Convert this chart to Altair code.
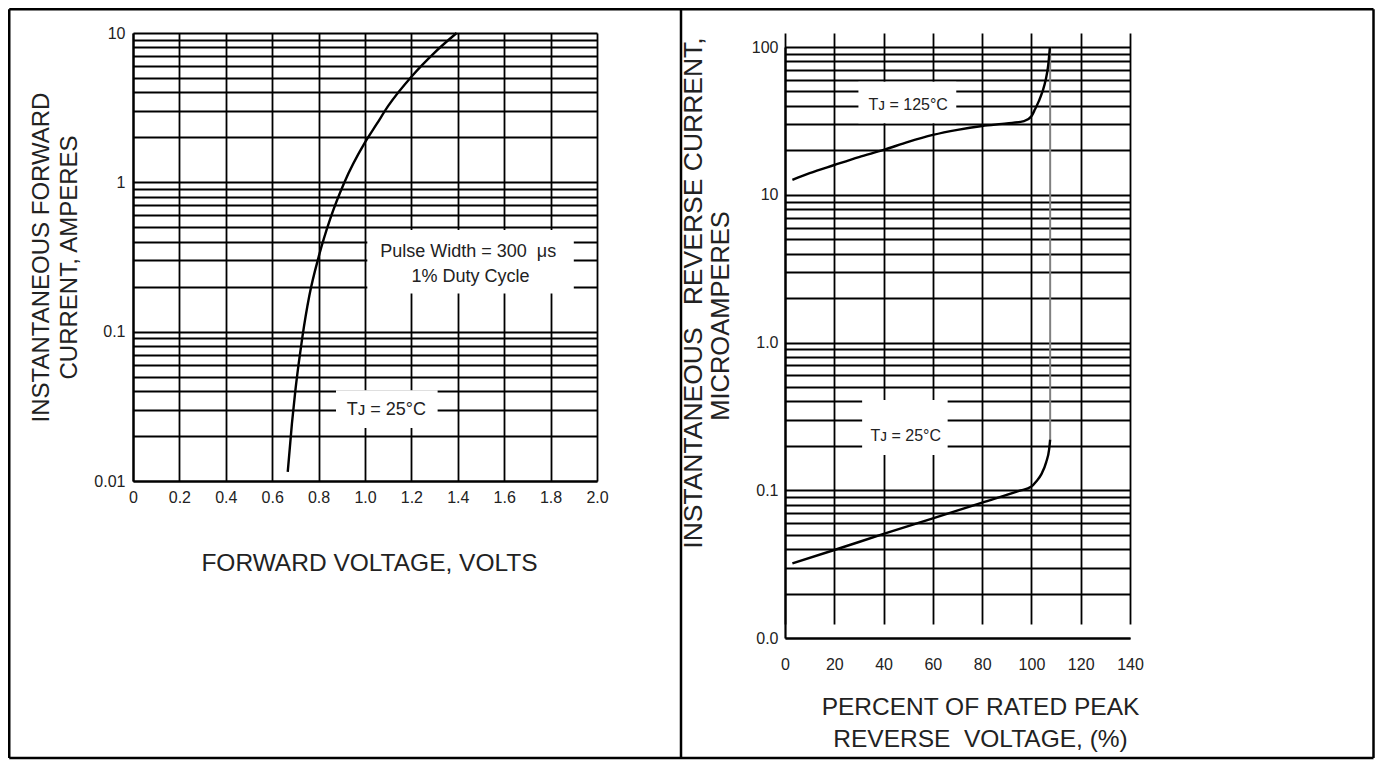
import altair as alt
import pandas as pd

FONT = "Liberation Sans"
NB = "\u00a0"

# ---------------- data: left chart (forward characteristic) ----------------
VF = [0.667, 0.685, 0.700, 0.715, 0.730, 0.760, 0.800, 0.850, 0.910, 1.000,
      1.050, 1.100, 1.200, 1.300, 1.395]
IF = [0.0115, 0.0242, 0.0406, 0.0626, 0.092, 0.174, 0.316, 0.569, 0.99, 1.85,
      2.45, 3.25, 5.1, 7.4, 10.0]

# ---------------- data: right chart (reverse characteristic) ---------------
PR125 = [3, 10, 20, 30, 40, 50, 60, 70, 80, 90, 97, 100, 101.5, 103, 104.5,
         105.8, 106.8, 107.5]
IR125 = [12.6, 14.0, 15.9, 18.0, 20.1, 22.8, 25.4, 27.5, 29.2, 30.4, 31.5,
         34.0, 38.0, 43.0, 50.0, 60.0, 75.0, 100.0]
PR25 = [3, 20, 40, 60, 80, 95, 100, 102, 104, 106, 107.2, 107.6]
IR25 = [0.032, 0.0394, 0.0506, 0.0646, 0.0824, 0.099, 0.106, 0.115, 0.128,
        0.155, 0.19, 0.22]
PR25_V = [107.6, 107.6]
IR25_V = [0.22, 100.0]

# ---------------- axes ----------------
LEFT_X_TICKS = [0, 0.2, 0.4, 0.6, 0.8, 1.0, 1.2, 1.4, 1.6, 1.8, 2.0]
LEFT_Y_TICKS = [0.01, 0.02, 0.03, 0.04, 0.05, 0.06, 0.07, 0.08, 0.09,
                0.1, 0.2, 0.3, 0.4, 0.5, 0.6, 0.7, 0.8, 0.9,
                1, 2, 3, 4, 5, 6, 7, 8, 9, 10]
LEFT_Y_LABELS = {0.01: "0.01", 0.1: "0.1", 1: "1", 10: "10"}
RIGHT_X_TICKS = [0, 20, 40, 60, 80, 100, 120, 140]
RIGHT_Y_TICKS = [0.01, 0.02, 0.03, 0.04, 0.05, 0.06, 0.07, 0.08, 0.09,
                 0.1, 0.2, 0.3, 0.4, 0.5, 0.6, 0.7, 0.8, 0.9,
                 1, 2, 3, 4, 5, 6, 7, 8, 9,
                 10, 20, 30, 40, 50, 60, 70, 80, 90, 100]
RIGHT_Y_LABELS = {0.01: "0.0", 0.1: "0.1", 1: "1.0", 10: "10", 100: "100"}

# ---------------- annotations (data coordinates) ----------------
LEFT_BOX_X1 = [1.01, 0.875]
LEFT_BOX_X2 = [1.90, 1.313]
LEFT_BOX_Y1 = [0.18, 0.0226]
LEFT_BOX_Y2 = [0.48, 0.0406]
LEFT_TXT = ["Pulse Width = 300" + NB + NB + "\u03bcs", "1% Duty Cycle",
            "T\u1d0a = 25\u00b0C"]
LEFT_TXT_X = [1.445, 1.455, 1.092]
LEFT_TXT_Y = [0.34, 0.232, 0.0298]

RIGHT_BOX_X1 = [29.8, 31.3]
RIGHT_BOX_X2 = [69.5, 66.0]
RIGHT_BOX_Y1 = [30.5, 0.173]
RIGHT_BOX_Y2 = [58.2, 0.408]
RIGHT_TXT = ["T\u1d0a = 125\u00b0C", "T\u1d0a = 25\u00b0C"]
RIGHT_TXT_X = [50, 49]
RIGHT_TXT_Y = [40.5, 0.233]


def label_expr(mapping):
    parts = [f"datum.value == {k} ? '{v}'" for k, v in mapping.items()]
    return " : ".join(parts) + " : ''"


AX = dict(grid=True, gridColor="black", gridWidth=1.8, gridOpacity=1,
          ticks=False, domainColor="black", domainWidth=2.2,
          labelFont=FONT, labelFontSize=16, labelColor="#222",
          labelOverlap=False, labelFlush=False,
          titleFont=FONT, titleFontWeight="normal", titleColor="#222")

# ---------------- left panel ----------------
LW, LH = 464, 448
lx_scale = alt.Scale(domain=[0, 2], nice=False, zero=False)
ly_scale = alt.Scale(type="log", domain=[0.01, 10], nice=False)

lx_axis = alt.Axis(values=LEFT_X_TICKS,
                   labelExpr="datum.value == 0 ? '0' : format(datum.value, '.1f')",
                   labelPadding=8, title="FORWARD VOLTAGE, VOLTS",
                   titleFontSize=24.5,
                   titleX=236, titleY=70, titleAlign="center",
                   titleBaseline="top", **AX)
ly_axis = alt.Axis(values=LEFT_Y_TICKS, labelExpr=label_expr(LEFT_Y_LABELS),
                   labelPadding=8,
                   title=["INSTANTANEOUS FORWARD", "CURRENT, AMPERES"],
                   titleFontSize=24,
                   titleAngle=270, titleX=-103.5, titleY=224,
                   titleAlign="center", titleBaseline="top",
                   titleLineHeight=28, **AX)

left_curve = alt.Chart(pd.DataFrame({"volt": VF, "amp": IF})).mark_line(
    color="black", strokeWidth=2.4, interpolate="monotone"
).encode(
    x=alt.X("volt:Q", scale=lx_scale, axis=lx_axis),
    y=alt.Y("amp:Q", scale=ly_scale, axis=ly_axis),
)

left_boxes = alt.Chart(pd.DataFrame({
    "bx1": LEFT_BOX_X1, "bx2": LEFT_BOX_X2, "by1": LEFT_BOX_Y1, "by2": LEFT_BOX_Y2
})).mark_rect(color="white").encode(
    x=alt.X("bx1:Q", scale=lx_scale), x2="bx2:Q",
    y=alt.Y("by1:Q", scale=ly_scale), y2="by2:Q",
)

left_text = alt.Chart(pd.DataFrame({
    "txt": LEFT_TXT, "tx": LEFT_TXT_X, "ty": LEFT_TXT_Y
})).mark_text(font=FONT, fontSize=18, color="#222").encode(
    x=alt.X("tx:Q", scale=lx_scale), y=alt.Y("ty:Q", scale=ly_scale), text="txt:N"
)

# outer frame of the figure (pixel positions relative to the left plot)
FR_L, FR_T, FR_R, FR_B, FR_MID = -123.75, -23.75, 1240.5, 725, 548
frame = [
    alt.Chart().mark_rule(color="black", strokeWidth=2.5).encode(
        x=alt.value(FR_L), x2=alt.value(FR_R), y=alt.value(FR_T)),
    alt.Chart().mark_rule(color="black", strokeWidth=2.5).encode(
        x=alt.value(FR_L), x2=alt.value(FR_R), y=alt.value(FR_B)),
    alt.Chart().mark_rule(color="black", strokeWidth=2.5).encode(
        x=alt.value(FR_L), y=alt.value(FR_T), y2=alt.value(FR_B)),
    alt.Chart().mark_rule(color="black", strokeWidth=2.5).encode(
        x=alt.value(FR_R), y=alt.value(FR_T), y2=alt.value(FR_B)),
    alt.Chart().mark_rule(color="black", strokeWidth=2.5).encode(
        x=alt.value(FR_MID), y=alt.value(FR_T), y2=alt.value(FR_B)),
]

left = alt.layer(left_curve, left_boxes, left_text, *frame).properties(
    width=LW, height=LH)

# ---------------- right panel ----------------
RW, RH = 345, 605
rx_scale = alt.Scale(domain=[0, 140], nice=False, zero=False)
ry_scale = alt.Scale(type="log", domain=[0.01, 100], range=[605, 14], nice=False)

rx_axis = alt.Axis(values=RIGHT_X_TICKS, format="d", labelPadding=18,
                   title=["PERCENT OF RATED PEAK",
                          "REVERSE" + NB + NB + "VOLTAGE, (%)"],
                   titleFontSize=24.5,
                   titleX=195, titleY=57, titleAlign="center",
                   titleBaseline="top", titleLineHeight=32, **AX)
ry_axis = alt.Axis(values=RIGHT_Y_TICKS, labelExpr=label_expr(RIGHT_Y_LABELS),
                   labelPadding=7,
                   title="INSTANTANEOUS" + NB * 3 + "REVERSE CURRENT,",
                   titleFontSize=26.5,
                   titleAngle=270, titleX=-105, titleY=259.5,
                   titleAlign="center", titleBaseline="top", **AX)

r125 = pd.DataFrame({"pct": PR125, "cur": IR125, "ord": list(range(len(PR125)))})
r25 = pd.DataFrame({"pct": PR25, "cur": IR25, "ord": list(range(len(PR25)))})
r25v = pd.DataFrame({"pct": PR25_V, "cur": IR25_V, "ord": list(range(len(PR25_V)))})

right_125 = alt.Chart(r125).mark_line(
    color="black", strokeWidth=2.4, interpolate="monotone"
).encode(
    x=alt.X("pct:Q", scale=rx_scale, axis=rx_axis),
    y=alt.Y("cur:Q", scale=ry_scale, axis=ry_axis),
    order="ord:Q",
)
right_25 = alt.Chart(r25).mark_line(
    color="black", strokeWidth=2.4, interpolate="monotone"
).encode(
    x=alt.X("pct:Q", scale=rx_scale), y=alt.Y("cur:Q", scale=ry_scale), order="ord:Q"
)
right_25v = alt.Chart(r25v).mark_line(color="#808080", strokeWidth=2).encode(
    x=alt.X("pct:Q", scale=rx_scale), y=alt.Y("cur:Q", scale=ry_scale), order="ord:Q"
)

right_boxes = alt.Chart(pd.DataFrame({
    "bx1": RIGHT_BOX_X1, "bx2": RIGHT_BOX_X2, "by1": RIGHT_BOX_Y1, "by2": RIGHT_BOX_Y2
})).mark_rect(color="white").encode(
    x=alt.X("bx1:Q", scale=rx_scale), x2="bx2:Q",
    y=alt.Y("by1:Q", scale=ry_scale), y2="by2:Q",
)
right_text = alt.Chart(pd.DataFrame({
    "txt": RIGHT_TXT, "tx": RIGHT_TXT_X, "ty": RIGHT_TXT_Y
})).mark_text(font=FONT, fontSize=16, color="#222").encode(
    x=alt.X("tx:Q", scale=rx_scale), y=alt.Y("ty:Q", scale=ry_scale), text="txt:N"
)

# second line of the right y-axis title
right_ytitle2 = alt.Chart().mark_text(
    font=FONT, fontSize=25.5, color="#222", angle=270,
    align="center", baseline="middle"
).encode(x=alt.value(-64), y=alt.value(283), text=alt.value("MICROAMPERES"))

right = alt.layer(right_25v, right_125, right_25, right_boxes, right_text,
                  right_ytitle2).properties(width=RW, height=RH)

chart = alt.hconcat(left, right, spacing=188, bounds="flush").properties(
    padding=0, background="white"
).configure_view(stroke=None)

chart.save("out.html", embed_options={"renderer": "svg", "actions": False})
